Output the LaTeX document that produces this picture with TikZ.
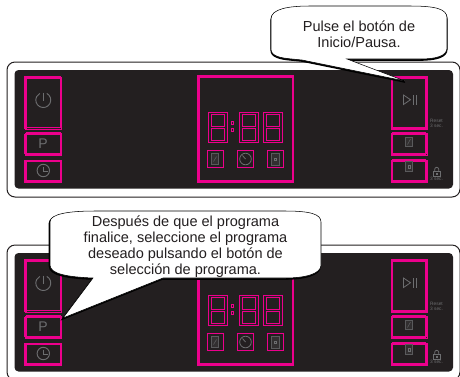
\documentclass[tikz,border=0pt]{standalone}
\usepackage{fontspec}
\setmainfont{Liberation Sans}
\definecolor{mag}{HTML}{EC008C}
\definecolor{pan}{HTML}{231F20}
\definecolor{ico}{HTML}{6D6E70}
\tikzset{
  x=0.75pt,y=-0.75pt,
  shell/.style={draw=pan,line width=0.75pt,rounded corners=6pt,fill=white},
  board/.style={fill=pan,rounded corners=3pt},
  thin mag/.style={draw=mag,line width=0.42pt},
  thick mag/.style={draw=mag,line width=1.6pt},
  icon/.style={draw=ico,line width=0.6pt},
  icon dark/.style={draw=ico!75!pan,fill=ico!20!pan,line width=0.45pt},
  bubble/.style={fill=white,draw=black,line width=0.4pt},
  bubble shade/.style={fill=black,draw=black,line width=0.9pt},
  say/.style={align=center,font=\fontsize{10.9}{12}\selectfont,text=pan,inner sep=0pt},
  tiny/.style={align=center,font=\fontsize{3.6}{3.8}\selectfont,text=ico,inner sep=0pt}
}
\newcommand{\btn}[4]{%
  \draw[thin mag] (#1,#2) rectangle (#3,#4);
  \draw[thin mag] (#1+1.5,#2+1.5) rectangle (#3-1,#4-1.5);
}
\newcommand{\digit}[1]{%
  \draw[thin mag] (#1,112) rectangle (#1+18.5,142);
  \draw[thin mag] (#1+2.3,114) rectangle (#1+16.2,126);
  \draw[thin mag] (#1+2.3,128) rectangle (#1+16.2,140);
}
\newcommand{\drawpanel}{%
  \draw[shell] (7,62) rectangle (460,197);
  \fill[board] (14.5,70) rectangle (453,188.5);
  % left buttons
  \btn{25}{77}{61.5}{129}
  \draw[thick mag] (25.5,129) -- (25.5,77) -- (61,77);
  \btn{25}{133}{61.5}{155}
  \draw[thick mag] (26,133.5) -- (61,133.5);
  \draw[thick mag] (25.5,134) -- (25.5,154);
  \draw[thick mag] (26,155) -- (61,155);
  \btn{25}{160}{61.5}{182}
  \draw[thick mag] (25.5,160) -- (25.5,182) -- (61,182);
  % right buttons
  \btn{391}{77}{427}{129}
  \draw[thick mag] (391,77) -- (426.5,77) -- (426.5,129);
  \draw[thick mag] (392,128.5) -- (426,128.5);
  \btn{391}{133}{427}{155}
  \draw[thick mag] (392,133.5) -- (426,133.5);
  \draw[thick mag] (426.5,134) -- (426.5,154);
  \draw[thick mag] (392,155) -- (426,155);
  \btn{391}{160}{427}{182}
  \draw[thick mag] (392,160.5) -- (426,160.5);
  \draw[thick mag] (392,160) -- (392,182);
  \draw[thick mag] (426.5,160) -- (426.5,182) -- (392,182);
  % display frame
  \draw[thick mag] (198.5,76.5) rectangle (293,181.5);
  \digit{208.5}\digit{239.5}\digit{263.5}
  \draw[thin mag] (231,121.5) rectangle (233.5,124);
  \draw[thin mag] (231,128) rectangle (233.5,131);
  % small keys under display
  \draw[thin mag] (207,150.5) rectangle (223.5,167.5);
  \draw[icon dark] (211.5,153.5) rectangle (218.5,164.5);
  \draw[icon dark] (213.5,161.5) -- (216.5,156.5);
  \draw[thin mag] (237.5,150.5) rectangle (253.5,167.5);
  \draw[icon] (245.5,159) circle[radius=5.8];
  \draw[icon] (245.5,159) -- (242.5,155.5);
  \draw[thin mag] (267.5,150.5) rectangle (283.5,167.5);
  \draw[icon dark] (271.5,153.5) rectangle (279,165);
  \draw[thin mag,draw=ico] (274.5,158) rectangle (276.5,160.5);
  % left icons
  \draw[icon,line width=0.7pt] (46.8,93.4) arc[start angle=-62,end angle=242,radius=7.5];
  \draw[icon,line width=0.7pt] (43.3,92.5) -- (43.3,101);
  \draw[icon,line width=0.7pt] (43.3,170.5) circle[radius=6.2];
  \draw[icon,line width=0.7pt] (43.3,166.5) -- (43.3,171) -- (47.5,171);
  \node[inner sep=0pt,text=ico,font=\fontsize{10.5}{12}\selectfont] (pkey) at (43,144) {P};
  % right icons
  \draw[icon] (403.5,95) -- (403.5,104.5) -- (410.5,99.7) -- cycle;
  \draw[icon] (413.5,95) -- (413.5,104.5) (416.5,95) -- (416.5,104.5);
  \draw[icon dark] (405.5,137.5) rectangle (412.5,146);
  \draw[icon dark] (407.5,144.5) -- (410.5,139);
  \draw[icon dark] (405.5,161.5) rectangle (412.5,171);
  \draw[draw=ico,line width=0.4pt] (408,165.5) rectangle (410.5,168);
  \node[tiny] (resettxt) at (436.5,123) {Reset\\3 sec.};
  \draw[icon] (433.5,171) rectangle (440,176.5);
  \draw[icon] (434.7,171) -- (434.7,169.3) arc[start angle=180,end angle=360,radius=2] -- (438.7,171);
  \draw[icon] (436,173) rectangle (437.6,174.6);
  \node[tiny] (locktxt) at (436.5,179.3) {3 sec.};
}
\begin{document}
\begin{tikzpicture}
\useasboundingbox (0,0) rectangle (460,376);
\begin{scope}
  \clip (0,0) rectangle (460,376);
  \drawpanel
  \begin{scope}[yshift=-137.25pt]
    \drawpanel
  \end{scope}
  % callout 1
  \def\bubbleone{(271,19) .. controls (271,9) and (288,6) .. (310,6) -- (410,6) .. controls (436,6) and (447,9) .. (447,18) -- (447,48) .. controls (447,56) and (436,59) .. (420,59) -- (347,59) -- (405,81) -- (302,60) -- (292,59) .. controls (280,58) and (271,56) .. (271,49) -- cycle}
  \fill[bubble shade,yshift=-0.9pt] \bubbleone;
  \path[bubble] \bubbleone;
  \node[say] (tipone) at (359,34.5) {Pulse el botón de\\Inicio/Pausa.};
  % callout 2
  \def\bubbletwo{(50,222) .. controls (50,214) and (68,211) .. (95,211) -- (285,211) .. controls (310,211) and (321,214) .. (321,222) -- (321,265) .. controls (321,274) and (305,278) .. (285,278) -- (163,278) -- (63,318) -- (93,278) .. controls (68,277) and (50,274) .. (50,265) -- cycle}
  \fill[bubble shade,xshift=-0.5pt,yshift=-0.9pt] \bubbletwo;
  \path[bubble] \bubbletwo;
  \node[say] (tiptwo) at (185.5,246.5) {Después de que el programa\\finalice, seleccione el programa\\deseado pulsando el botón de\\selección de programa.};
\end{scope}
\end{tikzpicture}
\end{document}
